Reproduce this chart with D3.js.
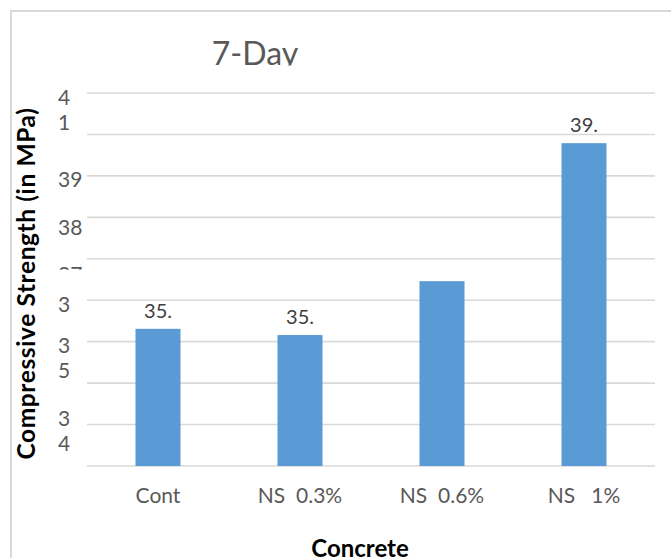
<!DOCTYPE html>
<html>
<head>
<meta charset="utf-8">
<script src="https://cdn.jsdelivr.net/npm/d3@7/dist/d3.min.js"></script>
<style>
  html, body { margin: 0; padding: 0; background: #fff; }
  svg { display: block; }
  text { font-family: Lato, "Open Sans", sans-serif; }
</style>
</head>
<body>
<div id="chart"></div>
<script>
// Compressive strength after 7 days, by nano-silica content
const categories = ["Cont", "NS  0.3%", "NS  0.6%", "NS   1%"];
const strength = [35.31, 35.16, 36.46, 39.79];
const showValue = [true, true, false, true];

// value axis: gridline values and their printed labels ("\n" = wrapped line)
const tickValues = [41, 40, 39, 38, 37, 36, 35, 34, 33, 32];
const tickLabels = ["4\n1", "", "39", "38", "37", "3", "3\n5", "", "3\n4", ""];

const chartTitle = "7-Day";
const yTitle = "Compressive Strength (in MPa)";
const xTitle = "Concrete";

const W = 671, H = 558;
const plot = { left: 87, right: 655, top: 93, bottom: 466 };

const svg = d3.select("#chart").append("svg")
  .attr("width", W).attr("height", H);

const defs = svg.append("defs");

// chart frame (runs off the right and bottom edges)
svg.append("rect")
  .attr("x", 11).attr("y", 11)
  .attr("width", W + 20).attr("height", H + 20)
  .attr("fill", "none")
  .attr("stroke", "#d9d9d9")
  .attr("stroke-width", 2);

const x = d3.scaleBand()
  .domain(categories)
  .range([plot.left, plot.right])
  .paddingInner(0.683)
  .paddingOuter(0.683 / 2);

const y = d3.scaleLinear()
  .domain([32, 41])
  .range([plot.bottom, plot.top]);

// horizontal gridlines
svg.append("g")
  .selectAll("line")
  .data(tickValues)
  .join("line")
  .attr("x1", plot.left).attr("x2", plot.right)
  .attr("y1", d => y(d)).attr("y2", d => y(d))
  .attr("stroke", "#d9d9d9")
  .attr("stroke-width", 1.6);

// value-axis labels, left aligned in their column
const labelShift = { 38: 6.5, 37: 12, 33: -10 };
defs.append("clipPath").attr("id", "clip37")
  .append("rect")
  .attr("x", 0).attr("y", 0)
  .attr("width", 90).attr("height", y(37) + 11);

const tickG = svg.append("g");
tickValues.forEach((v, i) => {
  const label = tickLabels[i];
  if (!label) return;
  const lines = label.split("\n");
  const t = tickG.append("text")
    .attr("x", 58)
    .attr("y", y(v) + 11.5 + (labelShift[v] || 0))
    .attr("fill", "#595959")
    .attr("font-size", 21);
  if (v === 37) t.attr("clip-path", "url(#clip37)");
  lines.forEach((ln, j) => {
    t.append("tspan")
      .attr("x", 58)
      .attr("dy", j === 0 ? 0 : 25)
      .text(ln);
  });
});

// bars
svg.append("g")
  .selectAll("rect")
  .data(categories)
  .join("rect")
  .attr("x", d => x(d))
  .attr("width", x.bandwidth())
  .attr("y", (d, i) => y(strength[i]))
  .attr("height", (d, i) => y(32) - y(strength[i]))
  .attr("fill", "#5b9bd5");

// value labels (truncated to the integer part)
svg.append("g")
  .selectAll("text")
  .data(categories.filter((d, i) => showValue[i]))
  .join("text")
  .attr("x", d => x(d) + x.bandwidth() / 2)
  .attr("y", d => y(strength[categories.indexOf(d)]) - 11)
  .attr("text-anchor", "middle")
  .attr("fill", "#404040")
  .attr("font-size", 20)
  .text(d => Math.trunc(strength[categories.indexOf(d)]) + ".");

// category labels
svg.append("g")
  .selectAll("text")
  .data(categories)
  .join("text")
  .attr("x", d => x(d) + x.bandwidth() / 2)
  .attr("y", 503)
  .attr("text-anchor", "middle")
  .attr("fill", "#595959")
  .attr("font-size", 21)
  .style("white-space", "pre")
  .text(d => d);

// chart title, cut off at the baseline
defs.append("clipPath").attr("id", "clipTitle")
  .append("rect")
  .attr("x", 0).attr("y", 0)
  .attr("width", W).attr("height", 65.5);

svg.append("text")
  .attr("x", 255).attr("y", 65)
  .attr("text-anchor", "middle")
  .attr("fill", "#595959")
  .attr("font-size", 32)
  .attr("clip-path", "url(#clipTitle)")
  .text(chartTitle);

// axis titles
svg.append("text")
  .attr("transform", `translate(35, ${(105 + 462) / 2}) rotate(-90)`)
  .attr("text-anchor", "middle")
  .attr("fill", "#000")
  .attr("font-weight", "bold")
  .attr("font-size", 24.5)
  .attr("letter-spacing", 0.6)
  .text(yTitle);

svg.append("text")
  .attr("x", 360).attr("y", 557)
  .attr("text-anchor", "middle")
  .attr("fill", "#000")
  .attr("font-weight", "bold")
  .attr("font-size", 24)
  .text(xTitle);
</script>
</body>
</html>
